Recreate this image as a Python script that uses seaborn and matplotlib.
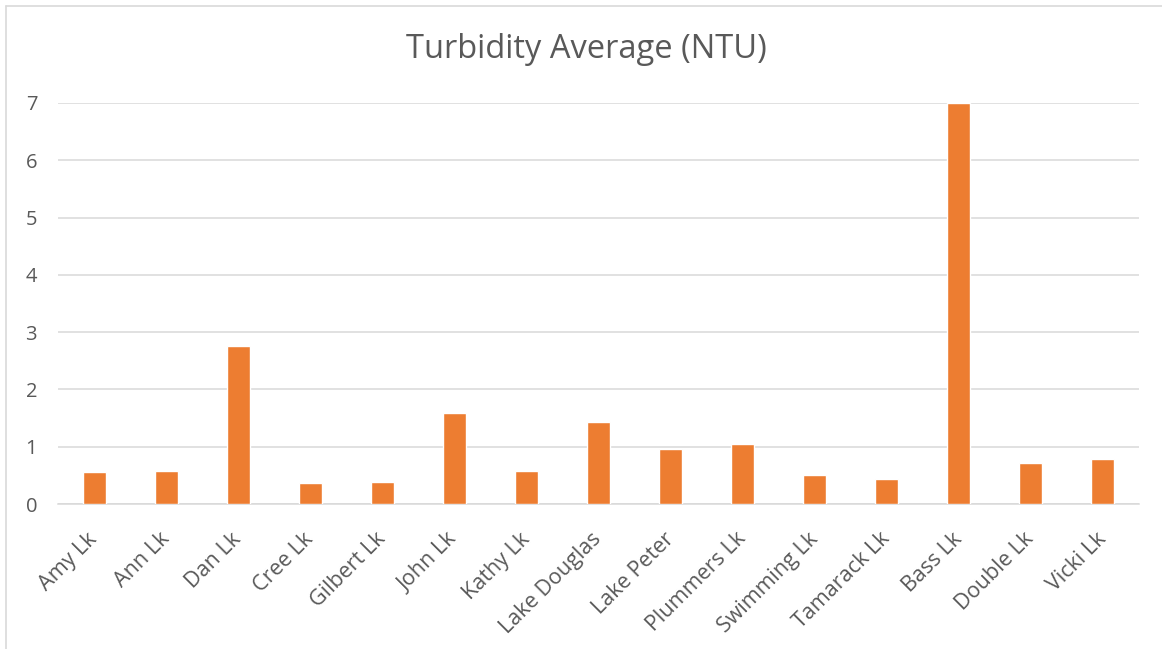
import matplotlib
matplotlib.use("Agg")
import matplotlib.pyplot as plt
import seaborn as sns
import pandas as pd
from matplotlib.lines import Line2D

lakes = ["Amy Lk", "Ann Lk", "Dan Lk", "Cree Lk", "Gilbert Lk", "John Lk", "Kathy Lk",
         "Lake Douglas", "Lake Peter", "Plummers Lk", "Swimming Lk", "Tamarack Lk",
         "Bass Lk", "Double Lk", "Vicki Lk"]
turbidity = [0.56, 0.58, 2.76, 0.37, 0.38, 1.59, 0.58, 1.43, 0.96, 1.05, 0.51, 0.44,
             7.0, 0.72, 0.79]
yticks = [0, 1, 2, 3, 4, 5, 6, 7]
title = "Turbidity Average (NTU)"

df = pd.DataFrame({"lake": lakes, "ntu": turbidity})

sns.set_style("white")
plt.rcParams["font.family"] = ["Open Sans", "DejaVu Sans"]

W, H = 1162, 649
fig = plt.figure(figsize=(W / 100, H / 100), dpi=100)
ax = fig.add_axes([58 / W, 1 - 504 / H, (1139 - 58) / W, (504 - 103) / H])

sns.barplot(data=df, x="lake", y="ntu", color="#ED7D31", saturation=1,
            width=0.32, ax=ax, zorder=3)

ax.set_ylim(0, 7)
ax.set_xlim(-0.5, len(lakes) - 0.5)
ax.set_yticks(yticks)
ax.set_yticklabels([str(t) for t in yticks])
ax.yaxis.grid(True, color="#d9d9d9", linewidth=1.1, zorder=0)
ax.set_axisbelow(True)
for s in ["top", "right", "left"]:
    ax.spines[s].set_visible(False)
ax.spines["bottom"].set_color("#d9d9d9")
ax.spines["bottom"].set_linewidth(1.1)
ax.set_xlabel("")
ax.set_ylabel("")
ax.tick_params(axis="both", length=0, colors="#595959")
ax.tick_params(axis="y", pad=15, labelsize=14.5)
ax.tick_params(axis="x", pad=23, labelsize=15.5)
plt.setp(ax.get_xticklabels(), rotation=45, ha="right", va="center", rotation_mode="anchor")

fig.text(0.505, 1 - 50 / H, title, ha="center", va="center", fontsize=23.5, color="#595959")

# chart border (left and top visible)
fig.add_artist(Line2D([5.5 / W, 5.5 / W], [0, 1 - 5.5 / H], transform=fig.transFigure,
                      color="#d9d9d9", linewidth=1.2))
fig.add_artist(Line2D([5.5 / W, 1], [1 - 5.5 / H, 1 - 5.5 / H], transform=fig.transFigure,
                      color="#d9d9d9", linewidth=1.2))

fig.savefig("out.png", dpi=100, facecolor="white")
